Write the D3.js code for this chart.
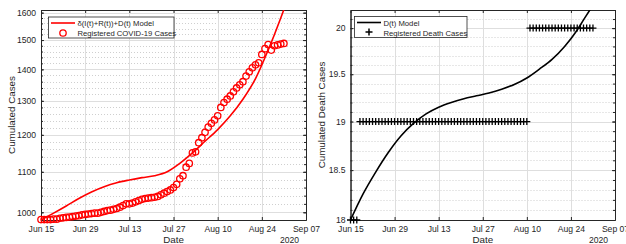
<!DOCTYPE html>
<html>
<head>
<meta charset="utf-8">
<script src="https://cdn.jsdelivr.net/npm/d3@7"></script>
<style>
  body { margin: 0; background: #fff; }
  svg text { font-family: "Liberation Sans", Arial, sans-serif; fill: #262626; }
</style>
</head>
<body>
<script>
// first day of the series (Jun 15 2020), one value per day after that
var startDate = new Date(2020, 5, 15);

// registered cumulated cases, one per day
var registeredCases = [
  983, 983, 983, 983, 984, 984, 986, 987, 988, 989,
  990, 991, 992, 994, 995, 996, 997, 998, 998, 1000,
  1002, 1004, 1005, 1007, 1009, 1012, 1016, 1020, 1020, 1022,
  1025, 1028, 1031, 1033, 1034, 1035, 1036, 1038, 1042, 1046,
  1050, 1054, 1060, 1068, 1082, 1090, 1112, 1122, 1150, 1153,
  1178, 1192, 1207, 1222, 1233, 1243, 1255, 1280, 1295, 1305,
  1315, 1328, 1340, 1350, 1360, 1378, 1392, 1405, 1415, 1422,
  1450, 1470, 1484, 1465, 1480, 1483, 1486, 1488
];

// registered cumulated deaths, one per day
var registeredDeaths = [
  18, 18, 18, 19, 19, 19, 19, 19, 19, 19,
  19, 19, 19, 19, 19, 19, 19, 19, 19, 19,
  19, 19, 19, 19, 19, 19, 19, 19, 19, 19,
  19, 19, 19, 19, 19, 19, 19, 19, 19, 19,
  19, 19, 19, 19, 19, 19, 19, 19, 19, 19,
  19, 19, 19, 19, 19, 19, 19, 20, 20, 20,
  20, 20, 20, 20, 20, 20, 20, 20, 20, 20,
  20, 20, 20, 20, 20, 20, 20, 20
];

// model curves at these days
var modelDays = [0, 4, 8, 12, 16, 20, 24, 28, 32, 36, 40, 44, 48, 52, 56, 60, 64, 68, 72, 74, 76, 78];
var casesModel = [982, 998, 1015, 1033, 1049, 1062, 1072, 1079, 1085, 1090, 1100, 1122, 1150, 1182, 1215, 1255, 1305, 1370, 1465, 1520, 1580, 1645];
var deathsModel = [18.0, 18.26, 18.48, 18.68, 18.85, 18.98, 19.08, 19.15, 19.2, 19.24, 19.27, 19.3, 19.34, 19.39, 19.46, 19.555, 19.66, 19.8, 19.98, 20.09, 20.2, 20.32];

// axes
var dateTicks = ['2020-06-15', '2020-06-29', '2020-07-13', '2020-07-27', '2020-08-10', '2020-08-24', '2020-09-07'];
var caseTicks = [1000, 1100, 1200, 1300, 1400, 1500, 1600];
var caseMinorTicks = [1000, 1020, 1040, 1060, 1080, 1100, 1120, 1140, 1160, 1180, 1200, 1220, 1240, 1260, 1280, 1300,
  1320, 1340, 1360, 1380, 1400, 1420, 1440, 1460, 1480, 1500, 1520, 1540, 1560, 1580, 1600];
var deathTicks = [18, 18.5, 19, 19.5, 20];
var deathMinorTicks = [18.1, 18.2, 18.3, 18.4, 18.5, 18.6, 18.7, 18.8, 18.9, 19, 19.1, 19.2, 19.3, 19.4, 19.5,
  19.6, 19.7, 19.8, 19.9, 20, 20.1];

var parseDay = d3.timeParse('%Y-%m-%d');
var dayToDate = function(d) { return d3.timeDay.offset(startDate, d); };

var svg = d3.select('body').append('svg')
  .attr('width', 626)
  .attr('height', 244);

function drawPanel(opt) {
  var x = d3.scaleTime()
    .domain([parseDay('2020-06-15'), parseDay('2020-09-07')])
    .range([opt.left, opt.right]);
  var y = d3.scaleLog()
    .domain(opt.yDomain)
    .range([220, 10]);

  var g = svg.append('g');

  // clip for the model line
  g.append('clipPath').attr('id', opt.id + '-clip')
    .append('rect')
    .attr('x', opt.left).attr('y', 10)
    .attr('width', opt.right - opt.left).attr('height', 210);

  // minor grid (dotted)
  g.append('g').selectAll('line')
    .data(opt.minorTicks)
    .enter().append('line')
    .attr('x1', opt.left).attr('x2', opt.right)
    .attr('y1', function(d) { return Math.round(y(d)) + 0.5; })
    .attr('y2', function(d) { return Math.round(y(d)) + 0.5; })
    .attr('stroke', '#cfcfcf')
    .attr('stroke-dasharray', '1,2');

  // major grid
  g.append('g').selectAll('line')
    .data(opt.yTicks)
    .enter().append('line')
    .attr('x1', opt.left).attr('x2', opt.right)
    .attr('y1', function(d) { return Math.round(y(d)) + 0.5; })
    .attr('y2', function(d) { return Math.round(y(d)) + 0.5; })
    .attr('stroke', '#dedede');

  g.append('g').selectAll('line')
    .data(dateTicks.map(parseDay))
    .enter().append('line')
    .attr('x1', function(d) { return Math.round(x(d)) + 0.5; })
    .attr('x2', function(d) { return Math.round(x(d)) + 0.5; })
    .attr('y1', 10).attr('y2', 220)
    .attr('stroke', '#dedede');

  // axes with inward ticks, bottom/top and left/right
  var xBottom = d3.axisBottom(x).tickValues(dateTicks.map(parseDay))
    .tickFormat(d3.timeFormat('%b %d')).tickSizeInner(-3).tickSizeOuter(0).tickPadding(6);
  var xTop = d3.axisTop(x).tickValues(dateTicks.map(parseDay))
    .tickFormat('').tickSizeInner(-3).tickSizeOuter(0);
  var yLeft = d3.axisLeft(y).tickValues(opt.yTicks)
    .tickFormat(d3.format('')).tickSizeInner(-3).tickSizeOuter(0).tickPadding(5);
  var yRight = d3.axisRight(y).tickValues(opt.yTicks)
    .tickFormat('').tickSizeInner(-3).tickSizeOuter(0);
  var yLeftMinor = d3.axisLeft(y).tickValues(opt.minorTicks)
    .tickFormat('').tickSizeInner(-2).tickSizeOuter(0);
  var yRightMinor = d3.axisRight(y).tickValues(opt.minorTicks)
    .tickFormat('').tickSizeInner(-2).tickSizeOuter(0);

  [
    [xBottom, 'translate(0,220)'], [xTop, 'translate(0,10)'],
    [yLeft, 'translate(' + opt.left + ',0)'], [yRight, 'translate(' + opt.right + ',0)'],
    [yLeftMinor, 'translate(' + opt.left + ',0)'], [yRightMinor, 'translate(' + opt.right + ',0)']
  ].forEach(function(a) {
    var ax = g.append('g').attr('transform', a[1]).call(a[0]);
    ax.selectAll('.domain, line').attr('stroke', '#262626');
    ax.selectAll('text').attr('font-size', 8.6).attr('fill', '#262626')
      .attr('font-family', '"Liberation Sans", Arial, sans-serif');
  });

  // model line
  var line = d3.line()
    .x(function(d) { return x(dayToDate(d[0])); })
    .y(function(d) { return y(d[1]); })
    .curve(d3.curveMonotoneX);

  g.append('path')
    .datum(modelDays.map(function(d, i) { return [d, opt.model[i]]; }))
    .attr('clip-path', 'url(#' + opt.id + '-clip)')
    .attr('fill', 'none')
    .attr('stroke', opt.color)
    .attr('stroke-width', 1.6)
    .attr('d', line);

  // registered data markers
  var marks = g.append('g').selectAll('g')
    .data(opt.data)
    .enter().append('g')
    .attr('transform', function(d, i) { return 'translate(' + x(dayToDate(i)) + ',' + y(d) + ')'; });

  if (opt.marker === 'circle') {
    marks.append('circle').attr('r', 3.2)
      .attr('fill', 'none').attr('stroke', opt.color).attr('stroke-width', 1.3);
  } else {
    marks.append('path').attr('d', 'M-3.5,0H3.5M0,-3.5V3.5')
      .attr('stroke', opt.color).attr('stroke-width', 1.3);
  }

  // axis labels
  g.append('text')
    .attr('transform', 'translate(' + opt.yLabelX + ',115) rotate(-90)')
    .attr('text-anchor', 'middle')
    .attr('font-size', 9.8)
    .text(opt.yLabel);
  g.append('text')
    .attr('x', (opt.left + opt.right) / 2).attr('y', 242.5)
    .attr('text-anchor', 'middle')
    .attr('font-size', 9.8)
    .text('Date');
  g.append('text')
    .attr('x', opt.right - 7).attr('y', 242.5)
    .attr('text-anchor', 'end')
    .attr('font-size', 8.6)
    .text('2020');

  // legend
  var lg = g.append('g').attr('transform', 'translate(' + opt.legend[0] + ',' + opt.legend[1] + ')');
  lg.append('rect')
    .attr('x', 0.5).attr('y', 0.5)
    .attr('width', opt.legend[2]).attr('height', 21)
    .attr('fill', '#fff').attr('stroke', '#262626').attr('stroke-width', 0.8);
  lg.append('line')
    .attr('x1', 3).attr('x2', 27).attr('y1', 6.5).attr('y2', 6.5)
    .attr('stroke', opt.color).attr('stroke-width', 1.6);
  if (opt.marker === 'circle') {
    lg.append('circle').attr('cx', 15).attr('cy', 16.5).attr('r', 3.2)
      .attr('fill', 'none').attr('stroke', opt.color).attr('stroke-width', 1.3);
  } else {
    lg.append('path').attr('d', 'M11.5,16H18.5M15,12.5V19.5')
      .attr('stroke', opt.color).attr('stroke-width', 1.5);
  }
  lg.selectAll('text.entry')
    .data(opt.legendText)
    .enter().append('text')
    .attr('class', 'entry')
    .attr('x', 29.5)
    .attr('y', function(d, i) { return 9.5 + i * 10; })
    .attr('font-size', 7.7)
    .text(function(d) { return d; });
}

drawPanel({
  id: 'cases', left: 41, right: 306,
  yDomain: [982, 1610], yTicks: caseTicks, minorTicks: caseMinorTicks,
  model: casesModel, data: registeredCases,
  color: '#ff0000', marker: 'circle',
  yLabel: 'Cumulated Cases', yLabelX: 15,
  legend: [48, 16.5, 125.5],
  legendText: ['\u03b4(I(t)+R(t))+D(t) Model', 'Registered COVID-19 Cases']
});

drawPanel({
  id: 'deaths', left: 350.5, right: 615,
  yDomain: [18, 20.2], yTicks: deathTicks, minorTicks: deathMinorTicks,
  model: deathsModel, data: registeredDeaths,
  color: '#000000', marker: 'plus',
  yLabel: 'Cumulated Death Cases', yLabelX: 325,
  legend: [354, 16, 112.5],
  legendText: ['D(t) Model', 'Registered Death Cases']
});
</script>
</body>
</html>
